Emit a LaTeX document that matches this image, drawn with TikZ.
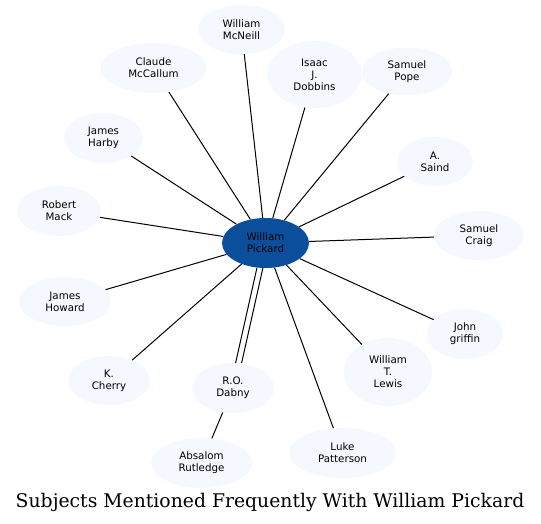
\documentclass[tikz,border=0pt]{standalone}
\usepackage{fontspec}
\setmainfont{DejaVu Sans}
\newfontfamily\titlefont{DejaVu Serif}
\usetikzlibrary{shapes.geometric}
\definecolor{leaffill}{HTML}{F5F8FE}
\definecolor{hubfill}{HTML}{0B4F9C}
\tikzset{
  leaf/.style={ellipse, fill=leaffill, inner sep=0pt, align=center,
    font=\fontsize{10.3}{12}\selectfont},
  hub/.style={leaf, fill=hubfill},
  link/.style={draw=black, line width=1pt}
}
\newcommand{\leafnode}[6]{\node[#1, minimum width=#4*2pt, minimum height=#5*2pt] (#2) at (#3) {#6};}
\begin{document}
\begin{tikzpicture}[x=1pt,y=-1pt]
\useasboundingbox (0,0) rectangle (541,524);
\leafnode{hub}{pick}{265.5,243}{43.5}{25}{William\\Pickard}
\leafnode{leaf}{mcneill}{241.5,29.5}{43.5}{24.5}{William\\McNeill}
\leafnode{leaf}{mccallum}{153.5,68}{53}{25}{Claude\\McCallum}
\leafnode{leaf}{dobbins}{314.5,74.5}{47}{33.5}{Isaac\\J.\\Dobbins}
\leafnode{leaf}{pope}{407,71.5}{45}{24}{Samuel\\Pope}
\leafnode{leaf}{harby}{103.5,138}{39.5}{25}{James\\Harby}
\leafnode{leaf}{saind}{435,161.5}{38}{24.5}{A.\\Saind}
\leafnode{leaf}{mack}{59,211}{42}{25}{Robert\\Mack}
\leafnode{leaf}{craig}{479,235.5}{45}{24.5}{Samuel\\Craig}
\leafnode{leaf}{howard}{65,301.5}{46}{24.5}{James\\Howard}
\leafnode{leaf}{griffin}{465,334}{38}{25}{John\\griffin}
\leafnode{leaf}{lewis}{388,372}{44}{34}{William\\T.\\Lewis}
\leafnode{leaf}{cherry}{109,380.5}{41}{24.5}{K.\\Cherry}
\leafnode{leaf}{dabny}{233,388}{41}{25}{R.O.\\Dabny}
\leafnode{leaf}{patterson}{342.5,453}{53.5}{25}{Luke\\Patterson}
\leafnode{leaf}{rutledge}{201.5,463}{50.5}{25}{Absalom\\Rutledge}
\node[font=\titlefont\fontsize{18.8}{20}\selectfont] (title) at (270,502) {Subjects Mentioned Frequently With William Pickard};
\foreach \n in {mcneill,mccallum,dobbins,pope,harby,saind,mack,craig,howard,griffin,lewis,cherry,patterson}
  \draw[link] (pick) -- (\n);
\draw[link, transform canvas={xshift=-3pt}] (pick) -- (dabny);
\draw[link, transform canvas={xshift=3pt}] (pick) -- (dabny);
\draw[link] (dabny) -- (rutledge);
\end{tikzpicture}
\end{document}
